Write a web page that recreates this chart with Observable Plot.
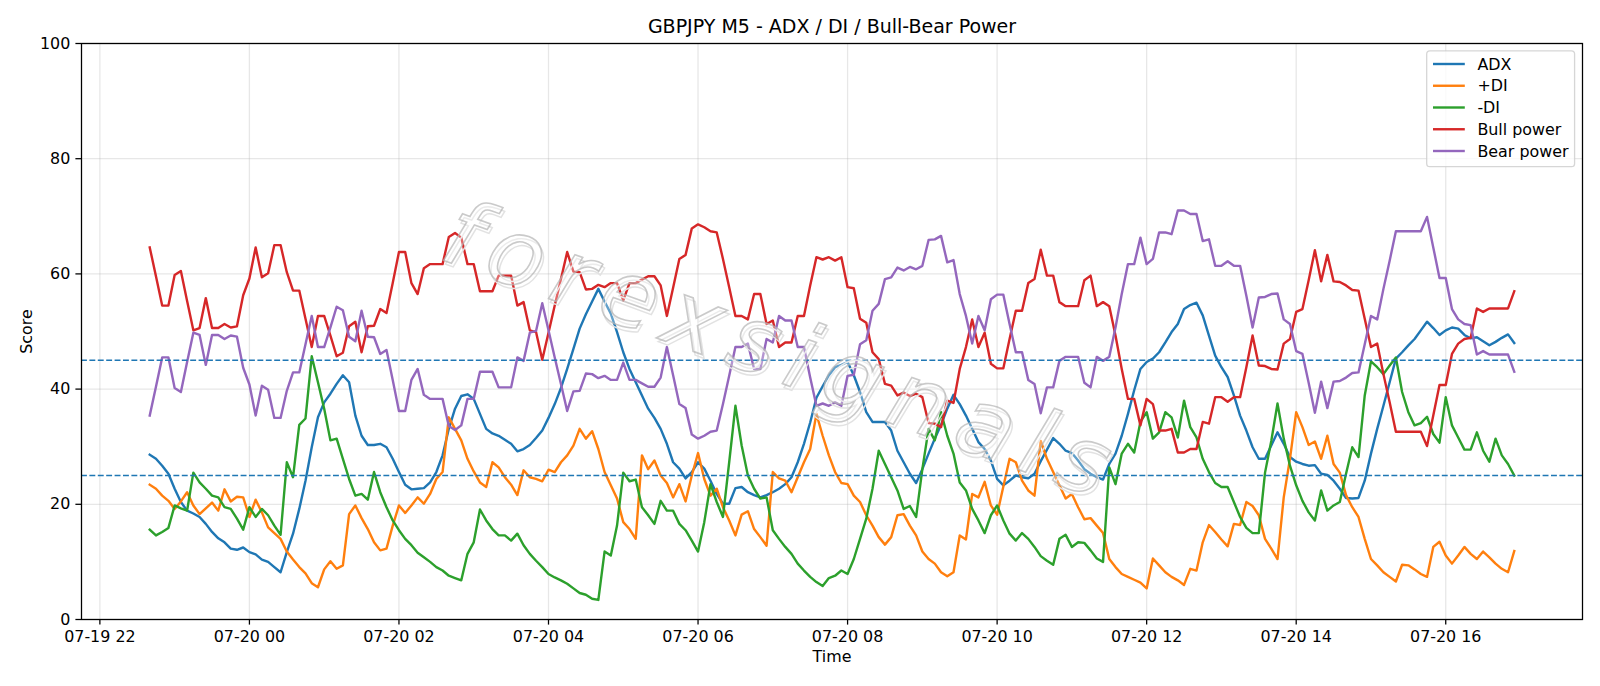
<!DOCTYPE html>
<html>
<head>
<meta charset="utf-8">
<script src="https://cdn.jsdelivr.net/npm/d3@7"></script>
<script src="https://cdn.jsdelivr.net/npm/@observablehq/plot@0.6"></script>
<style>
  html, body { margin: 0; padding: 0; background: #fff; }
  #fig { width: 1600px; height: 686px; }
</style>
</head>
<body>
<div id="fig"></div>
<script>
// GBPJPY M5 bars, first bar at 22:40 on 19 July, one value every 5 minutes
const startTime = new Date(2025, 6, 19, 22, 40);
const stepMinutes = 5;

const adx = [
  28.6,27.9,26.7,25.3,22.7,20.4,18.9,18.4,17.8,16.6,15.2,14.1,13.4,12.3,12.1,12.5,11.7,11.3,10.4,10.0,
  9.1,8.2,11.7,14.9,19.2,24.1,29.9,35.1,37.7,39.2,40.9,42.4,41.2,35.4,31.9,30.3,30.3,30.5,29.9,27.9,
  25.6,23.4,22.6,22.7,22.8,23.8,25.6,28.5,33.1,36.6,38.8,39.1,38.3,35.7,33.1,32.3,31.9,31.2,30.5,29.2,
  29.6,30.3,31.5,32.8,35.0,37.4,40.2,43.5,47.0,50.5,53.0,55.2,57.4,55.2,53.1,49.9,46.4,43.5,41.2,38.9,
  36.6,35.0,33.1,30.5,27.3,26.2,24.5,25.6,27.3,26.2,24.1,21.8,20.1,20.1,22.8,23.0,22.1,21.6,21.2,21.6,
  22.1,22.7,23.5,24.7,27.3,30.5,34.2,38.5,40.5,42.4,43.8,44.2,44.7,42.4,39.5,36.0,34.3,34.3,34.3,32.8,
  29.3,27.3,25.3,23.7,26.1,28.8,31.4,33.8,36.6,39.0,37.4,35.4,33.1,30.8,29.6,27.6,24.4,23.3,24.1,25.0,
  24.7,24.5,25.3,27.5,29.5,31.5,30.5,29.3,28.9,27.6,26.1,25.3,24.7,24.3,27.0,28.8,31.9,35.7,39.8,43.5,
  44.7,45.3,46.4,48.1,49.9,51.3,53.9,54.6,55.0,52.8,49.3,45.8,43.8,42.1,38.9,35.4,32.8,29.9,27.9,27.9,
  30.2,32.5,30.5,28.2,27.4,27.0,26.7,26.8,25.3,25.1,24.1,22.7,21.1,21.0,21.1,24.1,28.8,33.1,37.1,41.2,
  45.3,46.4,47.6,48.7,50.2,51.7,50.6,49.4,50.2,50.7,50.5,49.4,48.8,49.0,48.3,47.6,48.2,48.9,49.5,48.0
];
const plusDI = [
  23.4,22.7,21.5,20.6,19.2,20.5,22.1,19.8,18.3,19.3,20.3,18.9,22.6,20.5,21.3,21.2,17.8,20.8,18.6,16.0,
  15.0,14.0,11.8,10.4,9.1,8.0,6.3,5.6,8.7,10.1,8.8,9.4,18.3,19.8,17.6,15.7,13.4,12.0,12.3,16.3,
  19.8,18.5,19.8,21.2,20.1,21.8,24.4,25.6,35.1,33.1,31.1,27.9,25.7,23.8,23.0,27.3,26.4,24.7,23.4,21.6,
  25.9,24.7,24.4,24.0,26.0,25.6,27.3,28.5,30.2,33.1,31.4,32.7,29.6,25.6,23.3,21.0,16.9,15.7,14.0,28.5,
  26.1,27.6,25.0,23.7,21.2,23.5,20.5,25.0,28.9,24.4,21.5,22.7,19.5,17.2,14.6,18.2,18.8,15.7,14.3,12.8,
  25.6,24.5,24.1,22.1,24.7,27.3,29.6,35.7,31.9,28.5,25.6,23.7,23.5,21.5,20.4,18.1,16.3,14.3,13.0,14.3,
  18.1,18.3,16.3,14.6,11.8,10.5,9.7,8.2,7.5,8.2,14.6,13.9,21.8,21.2,23.9,19.8,18.2,23.1,27.9,27.3,
  24.1,22.4,21.5,31.0,27.9,25.6,23.3,21.0,21.8,19.5,17.4,17.6,16.3,15.0,10.5,9.1,7.9,7.4,6.9,6.4,
  5.4,10.6,9.4,8.2,7.4,6.8,6.0,8.8,8.5,13.4,16.4,15.2,13.9,12.7,16.6,16.4,20.4,19.7,18.1,14.0,
  12.3,10.5,21.2,27.9,36.0,33.4,30.3,30.9,27.9,31.9,27.0,25.5,21.6,19.5,17.8,14.0,10.5,9.4,8.2,7.4,
  6.6,9.5,9.4,8.7,7.9,7.4,12.6,13.5,11.1,9.7,11.1,12.6,11.4,10.5,11.8,10.8,9.7,8.8,8.2,11.9
];
const minusDI = [
  15.6,14.6,15.2,15.9,19.8,19.3,18.9,25.5,23.8,22.7,21.5,21.2,19.5,19.2,17.5,15.6,19.5,17.8,19.2,18.1,
  16.3,14.7,27.3,24.7,33.8,34.9,45.7,41.2,36.6,31.1,31.4,27.9,24.4,21.5,21.8,20.8,25.6,22.1,19.5,17.2,
  15.5,14.0,12.9,11.6,10.8,10.0,9.1,8.5,7.6,7.2,6.8,11.4,13.4,19.1,17.2,15.7,14.6,14.6,13.7,14.9,
  12.9,11.4,10.2,9.1,7.9,7.3,6.8,6.2,5.4,4.6,4.3,3.6,3.4,11.8,11.1,16.3,25.5,24.0,24.3,19.5,
  18.1,16.6,20.6,18.9,18.9,16.6,15.5,13.7,11.8,16.9,23.5,20.4,17.8,27.3,37.1,30.2,25.0,22.7,21.0,21.2,
  15.5,14.0,12.6,11.4,9.7,8.5,7.4,6.5,5.8,7.2,7.6,8.5,7.9,10.5,14.0,17.5,22.7,29.3,27.0,24.7,
  22.4,19.2,19.7,17.8,26.1,33.1,31.1,36.0,31.9,28.8,23.8,22.4,19.2,17.2,15.0,18.1,19.8,17.2,14.9,13.7,
  15.0,14.0,12.6,11.0,10.2,9.5,14.0,14.7,12.6,13.4,13.3,12.0,10.6,10.0,26.4,23.5,28.8,30.5,29.0,34.3,
  36.0,31.4,32.5,36.0,35.1,31.6,38.0,33.4,31.6,27.9,25.6,23.7,23.0,23.0,20.4,17.8,15.9,15.0,15.0,25.5,
  31.0,37.5,31.4,26.7,23.3,20.6,18.6,17.2,22.4,18.9,19.8,20.4,25.3,29.9,28.2,38.9,44.8,43.8,42.6,44.1,
  45.5,39.5,36.0,33.7,34.1,35.2,32.2,30.7,38.6,33.7,31.6,29.5,29.5,32.5,29.3,27.4,31.4,28.5,27.0,25.0
];
const bullPower = [
  64.6,59.6,54.5,54.5,59.8,60.5,55.3,50.2,50.6,55.8,50.6,50.6,51.3,50.7,50.9,56.3,59.2,64.6,59.4,60.1,
  65.0,65.0,60.3,57.1,57.1,52.2,47.3,52.7,52.7,49.3,45.7,46.3,50.9,51.7,46.4,50.9,51.0,53.9,53.2,58.4,
  63.8,63.8,58.4,56.5,61.0,61.7,61.7,61.7,66.4,67.1,66.3,61.7,61.7,57.0,57.0,57.0,59.7,59.7,59.7,54.5,
  55.1,50.2,49.9,45.1,49.8,54.5,59.1,63.8,60.4,60.3,57.3,57.4,58.1,57.7,58.4,58.4,55.4,58.4,58.4,59.0,
  59.6,59.6,58.0,52.7,57.6,62.6,63.3,67.9,68.6,68.1,67.4,67.2,62.6,57.7,52.7,52.7,52.1,56.5,56.5,51.3,
  51.9,47.3,48.1,48.1,52.7,52.7,58.0,62.9,62.5,62.9,62.3,62.9,57.7,57.5,52.2,51.5,46.4,45.2,40.9,40.6,
  38.9,39.4,38.8,39.2,38.6,34.1,34.0,33.4,38.0,37.6,43.5,47.3,52.1,47.3,49.8,44.4,43.6,43.6,48.7,53.6,
  53.6,58.4,59.1,64.2,59.7,59.7,55.1,54.4,54.4,54.4,58.9,59.7,54.4,55.1,54.4,49.3,43.5,38.3,38.3,33.7,
  38.3,37.4,32.8,32.8,33.1,29.0,29.0,29.6,29.6,34.3,34.0,38.6,38.6,37.8,38.6,38.6,43.8,49.3,44.1,44.0,
  43.5,43.4,47.9,48.7,53.4,53.9,58.9,64.1,58.7,63.3,58.7,58.6,58.0,57.2,57.1,52.2,47.3,47.9,42.6,37.7,
  32.6,32.6,32.6,32.6,32.6,30.1,35.4,40.7,40.7,46.1,47.9,48.7,48.9,54.0,53.4,54.0,54.0,54.0,54.0,57.0
];
const bearPower = [
  35.4,40.4,45.5,45.5,40.2,39.5,44.7,49.8,49.4,44.2,49.4,49.4,48.7,49.3,49.1,43.7,40.8,35.4,40.6,39.9,
  35.0,35.0,39.7,42.9,42.9,47.8,52.7,47.3,47.3,50.7,54.3,53.7,49.1,48.3,53.6,49.1,49.0,46.1,46.8,41.6,
  36.2,36.2,41.6,43.5,39.0,38.3,38.3,38.3,33.6,32.9,33.7,38.3,38.3,43.0,43.0,43.0,40.3,40.3,40.3,45.5,
  44.9,49.8,50.1,54.9,50.2,45.5,40.9,36.2,39.6,39.7,42.7,42.6,41.9,42.3,41.6,41.6,44.6,41.6,41.6,41.0,
  40.4,40.4,42.0,47.3,42.4,37.4,36.7,32.1,31.4,31.9,32.6,32.8,37.4,42.3,47.3,47.3,47.9,43.5,43.5,48.7,
  48.1,52.7,51.9,51.9,47.3,47.3,42.0,37.1,37.5,37.1,37.7,37.1,42.3,42.5,47.8,48.5,53.6,54.8,59.1,59.4,
  61.1,60.6,61.2,60.8,61.4,65.9,66.0,66.6,62.0,62.4,56.5,52.7,47.9,52.7,50.2,55.6,56.4,56.4,51.3,46.4,
  46.4,41.6,40.9,35.8,40.3,40.3,44.9,45.6,45.6,45.6,41.1,40.3,45.6,44.9,45.6,50.7,56.5,61.7,61.7,66.3,
  61.7,62.6,67.2,67.2,66.9,71.0,71.0,70.4,70.4,65.7,66.0,61.4,61.4,62.2,61.4,61.4,56.2,50.7,55.9,56.0,
  56.5,56.6,52.1,51.3,46.6,46.1,41.1,35.9,41.3,36.7,41.3,41.4,42.0,42.8,42.9,47.8,52.7,52.1,57.4,62.3,
  67.4,67.4,67.4,67.4,67.4,69.9,64.6,59.3,59.3,53.9,52.1,51.3,51.1,46.0,46.6,46.0,46.0,46.0,46.0,43.0
];

const seriesNames = ["ADX", "+DI", "-DI", "Bull power", "Bear power"];
const seriesColors = ["#1f77b4", "#ff7f0e", "#2ca02c", "#d62728", "#9467bd"];
const thresholdLevels = [45, 25];
const yTicks = [0, 20, 40, 60, 80, 100];
const titleText = "GBPJPY M5 - ADX / DI / Bull-Bear Power";
const xLabel = "Time";
const yLabel = "Score";
const watermarkText = "forexsignals";

// long table: one row per bar and series
const times = adx.map((_, i) => d3.timeMinute.offset(startTime, i * stepMinutes));
const seriesValues = [adx, plusDI, minusDI, bullPower, bearPower];
const rows = seriesValues.flatMap((vals, s) =>
  vals.map((v, i) => ({time: times[i], value: v, series: seriesNames[s]})));

// 5% padding on both sides of the time range
const span = times[times.length - 1] - times[0];
const xDomain = [new Date(+times[0] - span * 0.05), new Date(+times[times.length - 1] + span * 0.05)];
const xTicks = d3.timeHour.every(2).range(xDomain[0], xDomain[1]);

const FONT = "DejaVu Sans, Verdana, sans-serif";
const gridStyle = {stroke: "#b0b0b0", strokeOpacity: 0.3, strokeWidth: 1.27};

const chart = Plot.plot({
  width: 1600,
  height: 686,
  marginLeft: 81,
  marginRight: 18,
  marginTop: 43,
  marginBottom: 67,
  style: {fontFamily: FONT, fontSize: "15.9px", color: "#000", background: "#fff"},
  x: {type: "time", domain: xDomain, axis: null},
  y: {domain: [0, 100], axis: null},
  color: {domain: seriesNames, range: seriesColors},
  marks: [
    Plot.gridX(xTicks, gridStyle),
    Plot.gridY(yTicks, gridStyle),
    Plot.line(rows, {x: "time", y: "value", z: "series", stroke: "series", strokeWidth: 2.4,
      strokeLinejoin: "round", strokeLinecap: "square"}),
    Plot.ruleY(thresholdLevels, {stroke: "#1f77b4", strokeWidth: 1.6, strokeDasharray: "5.9,2.5"}),
    Plot.frame({stroke: "#000", strokeWidth: 1.27}),
    Plot.axisX(xTicks, {tickSize: 5.6, tickPadding: 5.6, strokeWidth: 1.27,
      tickFormat: d3.timeFormat("%m-%d %H"), label: null, fontSize: 15.9}),
    Plot.axisY(yTicks, {tickSize: 5.6, tickPadding: 5.6, strokeWidth: 1.27,
      label: null, fontSize: 15.9}),
    Plot.text([titleText], {frameAnchor: "top", dy: -17, lineAnchor: "middle", textAnchor: "middle", fontSize: 19}),
    Plot.text([xLabel], {frameAnchor: "bottom", dy: 37, lineAnchor: "middle", textAnchor: "middle", fontSize: 15.9}),
    Plot.text([yLabel], {frameAnchor: "left", dx: -55, rotate: -90, lineAnchor: "middle", textAnchor: "middle", fontSize: 15.9})
  ]
});

const svg = d3.select(chart.tagName.toLowerCase() === "svg" ? chart : chart.querySelector("svg"));

// faint outlined watermark across the middle of the plot, under the frame and legend
const wm = svg.insert("g", "g[aria-label='frame']")
  .attr("transform", "translate(784,350) rotate(20)")
  .attr("font-family", FONT).attr("font-size", 92).attr("font-style", "italic")
  .attr("text-anchor", "middle").attr("letter-spacing", "13px");
wm.append("text").attr("x", 3).attr("y", 3).attr("dy", "0.35em")
  .attr("fill", "none").attr("stroke", "#e2e2e2").attr("stroke-width", 1.4)
  .text(watermarkText);
wm.append("text").attr("dy", "0.35em")
  .attr("fill", "#ffffff").attr("fill-opacity", 0.3)
  .attr("stroke", "#b4b4b4").attr("stroke-opacity", 0.7).attr("stroke-width", 1.6)
  .text(watermarkText);

// legend box in the upper right corner of the plot area
const lg = svg.append("g").attr("font-family", FONT).attr("font-size", 15.9).attr("text-anchor", "start");
const box = {x: 1426.7, y: 50.9, w: 147.9, h: 115.8};
lg.append("rect")
  .attr("x", box.x).attr("y", box.y).attr("width", box.w).attr("height", box.h)
  .attr("rx", 3.2).attr("ry", 3.2)
  .attr("fill", "#fff").attr("fill-opacity", 0.8)
  .attr("stroke", "#cccccc").attr("stroke-opacity", 0.8).attr("stroke-width", 1.3);
seriesNames.forEach((name, k) => {
  const cy = 64 + 21.75 * k;
  lg.append("line")
    .attr("x1", 1433).attr("x2", 1464.8).attr("y1", cy).attr("y2", cy)
    .attr("stroke", seriesColors[k]).attr("stroke-width", 2.4);
  lg.append("text")
    .attr("x", 1477.4).attr("y", cy).attr("dy", "0.35em")
    .attr("fill", "#000").attr("text-anchor", "start").text(name);
});

document.getElementById("fig").appendChild(chart);
</script>
</body>
</html>
